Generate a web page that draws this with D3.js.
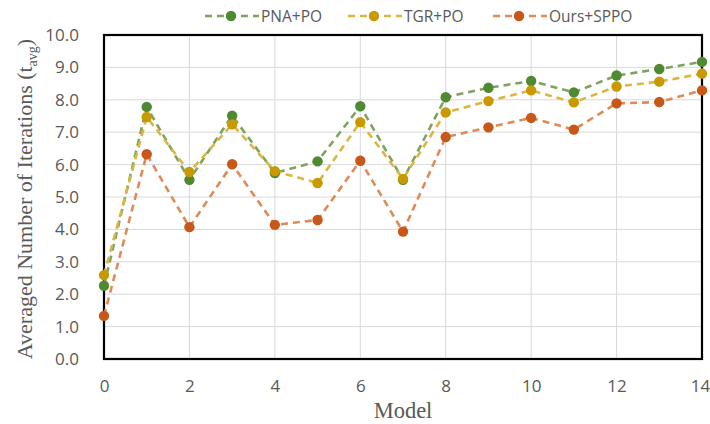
<!DOCTYPE html>
<html lang="en">
<head>
<meta charset="utf-8">
<title>Averaged number of iterations</title>
<script src="https://d3js.org/d3.v7.min.js"></script>
<style>
  body { margin: 0; background: #fff; }
  svg { display: block; }
</style>
</head>
<body>
<div id="plot"></div>
<script>
// data
var models = [0, 1, 2, 3, 4, 5, 6, 7, 8, 9, 10, 11, 12, 13, 14];
var pnaPO = [2.26, 7.78, 5.53, 7.51, 5.74, 6.10, 7.80, 5.53, 8.08, 8.37, 8.58, 8.23, 8.75, 8.95, 9.17];
var tgrPO = [2.59, 7.47, 5.77, 7.24, 5.80, 5.43, 7.31, 5.56, 7.61, 7.96, 8.29, 7.92, 8.41, 8.56, 8.81];
var oursSPPO = [1.33, 6.32, 4.07, 6.01, 4.14, 4.29, 6.12, 3.93, 6.85, 7.15, 7.44, 7.08, 7.89, 7.93, 8.29];
var seriesNames = ["PNA+PO", "TGR+PO", "Ours+SPPO"];
var xTicks = [0, 2, 4, 6, 8, 10, 12, 14];
var yTicks = [0, 1, 2, 3, 4, 5, 6, 7, 8, 9, 10];

var series = [
  { name: seriesNames[0], values: pnaPO, line: "#7fa35f", dot: "#4f8a32" },
  { name: seriesNames[1], values: tgrPO, line: "#dcb640", dot: "#c89a00" },
  { name: seriesNames[2], values: oursSPPO, line: "#df8a58", dot: "#c8581a" }
];

var W = 710, H = 424;
var margin = { top: 35, right: 8, bottom: 65, left: 104 };
var width = W - margin.left - margin.right,
    height = H - margin.top - margin.bottom;

var svg = d3.select("#plot").append("svg")
  .attr("width", W)
  .attr("height", H);

var g = svg.append("g")
  .attr("transform", "translate(" + margin.left + "," + margin.top + ")");

var x = d3.scaleLinear().domain([0, 14]).range([0, width]);
var y = d3.scaleLinear().domain([0, 10]).range([height, 0]);

// gridlines
g.append("g")
  .selectAll("line.h")
  .data(yTicks)
  .join("line")
  .attr("x1", 0).attr("x2", width)
  .attr("y1", function (d) { return y(d); })
  .attr("y2", function (d) { return y(d); })
  .attr("stroke", "#d9d9d9").attr("stroke-width", 1);

g.append("g")
  .selectAll("line.v")
  .data(xTicks)
  .join("line")
  .attr("y1", 0).attr("y2", height)
  .attr("x1", function (d) { return x(d); })
  .attr("x2", function (d) { return x(d); })
  .attr("stroke", "#d9d9d9").attr("stroke-width", 1);

// axes (labels only)
var yAxis = g.append("g")
  .call(d3.axisLeft(y).tickValues(yTicks).tickFormat(d3.format(".1f")).tickSize(0).tickPadding(25));
var xAxis = g.append("g")
  .attr("transform", "translate(0," + height + ")")
  .call(d3.axisBottom(x).tickValues(xTicks).tickSize(0).tickPadding(21));

[yAxis, xAxis].forEach(function (a) {
  a.select(".domain").remove();
  a.selectAll("text")
    .style("font-family", "'Open Sans', sans-serif")
    .style("font-size", "17px")
    .attr("fill", "#595959");
});
// keep the last x label inside the window
xAxis.selectAll("text").filter(function (d) { return d === 14; }).attr("dx", -2);

// frame
g.append("rect")
  .attr("x", 0).attr("y", 0)
  .attr("width", width).attr("height", height)
  .attr("fill", "none")
  .attr("stroke", "#000")
  .attr("stroke-width", 2.2);

// lines + markers
var line = d3.line()
  .x(function (d, i) { return x(models[i]); })
  .y(function (d) { return y(d); });

series.forEach(function (s) {
  g.append("path")
    .datum(s.values)
    .attr("d", line)
    .attr("fill", "none")
    .attr("stroke", s.line)
    .attr("stroke-width", 2.6)
    .attr("stroke-dasharray", "7,5");
});

series.forEach(function (s) {
  g.append("g")
    .selectAll("circle")
    .data(s.values)
    .join("circle")
    .attr("cx", function (d, i) { return x(models[i]); })
    .attr("cy", function (d) { return y(d); })
    .attr("r", 5.2)
    .attr("fill", s.dot);
});

// axis titles
svg.append("text")
  .attr("x", margin.left + width / 2)
  .attr("y", 418)
  .attr("text-anchor", "middle")
  .style("font-family", "'Liberation Serif', 'Times New Roman', serif")
  .style("font-size", "22.5px")
  .attr("fill", "#595959")
  .text("Model");

var yt = svg.append("text")
  .attr("transform", "translate(32," + (margin.top + height / 2 + 2) + ") rotate(-90)")
  .attr("text-anchor", "middle")
  .style("font-family", "'Liberation Serif', 'Times New Roman', serif")
  .style("font-size", "22px")
  .attr("fill", "#595959");
yt.append("tspan").text("Averaged Number of Iterations (t");
yt.append("tspan").attr("font-size", "14px").attr("dy", 5).text("avg");
yt.append("tspan").attr("dy", -5).text(")");

// legend
var legendX = [205, 348, 493];
var leg = svg.append("g");
series.forEach(function (s, i) {
  var lx = legendX[i], ly = 16;
  var item = leg.append("g").attr("transform", "translate(" + lx + "," + ly + ")");
  item.append("line")
    .attr("x1", 0).attr("x2", 54)
    .attr("y1", 0).attr("y2", 0)
    .attr("stroke", s.line)
    .attr("stroke-width", 2.6)
    .attr("stroke-dasharray", "7,5");
  item.append("circle")
    .attr("cx", 26).attr("cy", 0).attr("r", 5.2)
    .attr("fill", s.dot);
  item.append("text")
    .attr("x", 56).attr("y", 5.5)
    .style("font-family", "'Open Sans', sans-serif")
    .style("font-size", "15.5px")
    .attr("fill", "#595959")
    .text(s.name);
});
</script>
</body>
</html>
